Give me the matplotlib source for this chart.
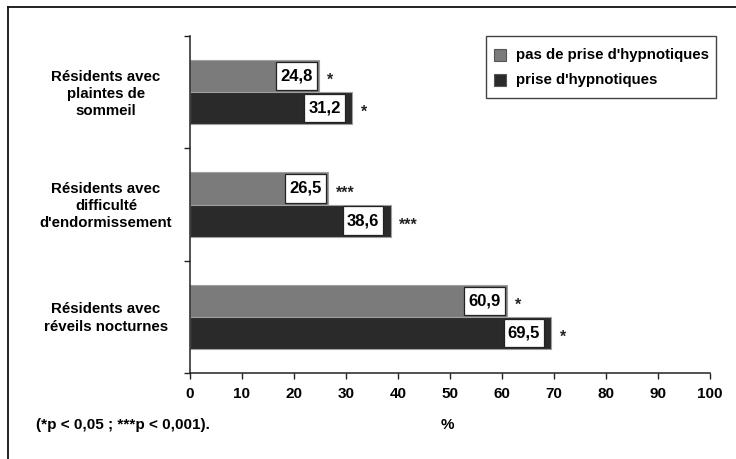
import matplotlib
matplotlib.use("Agg")
import matplotlib.pyplot as plt
from matplotlib.patches import Rectangle
import numpy as np

categories = ["Résidents avec\nplaintes de\nsommeil",
              "Résidents avec\ndifficulté\nd'endormissement",
              "Résidents avec\nréveils nocturnes"]
no_hypno = [24.8, 26.5, 60.9]
hypno = [31.2, 38.6, 69.5]
signif = ["*", "***", "*"]
series_names = ["pas de prise d'hypnotiques", "prise d'hypnotiques"]
xticks = [0, 10, 20, 30, 40, 50, 60, 70, 80, 90, 100]
xlabel = "%"
footnote = "(*p < 0,05 ; ***p < 0,001)."

fam = ["Liberation Sans", "DejaVu Sans"]
fam_narrow = ["Liberation Sans Narrow", "Liberation Sans", "DejaVu Sans"]

fig = plt.figure(figsize=(7.36, 4.59), dpi=100)
W, H = 736, 459
ax = fig.add_axes([190 / W, 1 - 373 / H, 520 / W, 337 / H])

# outer frame (left and top edges)
fig.add_artist(plt.Line2D([8 / W, 8 / W], [0, 1 - 7 / H], transform=fig.transFigure,
                          color="#111111", linewidth=1.3))
fig.add_artist(plt.Line2D([8 / W, 1], [1 - 7 / H, 1 - 7 / H], transform=fig.transFigure,
                          color="#111111", linewidth=1.3))

colors = ["#7b7b7b", "#2a2a2a"]
bh = 0.285
y = np.arange(len(categories))
for vals, off, col in [(no_hypno, -bh / 2, colors[0]), (hypno, bh / 2, colors[1])]:
    ax.barh(y + off, vals, height=bh, color=col, edgecolor="#a0a0a0", linewidth=0.8)

box_w = 7.8
box_h = 0.255
for vals, off, shift in [(no_hypno, -bh / 2, 0.4), (hypno, bh / 2, 1.4)]:
    for i, v in enumerate(vals):
        right = v - shift
        ax.add_patch(Rectangle((right - box_w, y[i] + off - box_h / 2), box_w, box_h,
                               facecolor="white", edgecolor="#222222", linewidth=0.9, zorder=3))
        ax.text(right - box_w / 2, y[i] + off, f"{v:.1f}".replace(".", ","),
                ha="center", va="center", fontsize=12, fontweight="bold",
                family=fam_narrow, zorder=4)
        ax.text(v + 1.6, y[i] + off + 0.04, signif[i], ha="left", va="center",
                fontsize=11.5, fontweight="bold", family=fam, color="#222222")

ax.set_xlim(0, 100)
ax.set_ylim(2.5, -0.5)
ax.set_xticks(xticks)
ax.set_xticklabels([str(t) for t in xticks], fontsize=11, fontweight="bold", family=fam_narrow)
ax.set_yticks([-0.5, 0.5, 1.5, 2.5])
ax.set_yticklabels([])
ax.tick_params(axis="x", direction="out", length=4, width=1, pad=6, color="#222222")
ax.tick_params(axis="y", direction="out", length=4, width=1, color="#222222")
for s in ["top", "right"]:
    ax.spines[s].set_visible(False)
for s in ["left", "bottom"]:
    ax.spines[s].set_color("#222222")
    ax.spines[s].set_linewidth(1.1)

for i, c in enumerate(categories):
    fig.text(106 / W, 1 - [94, 206, 318][i] / H, c, ha="center", va="center",
             fontsize=10.8, fontweight="bold", family=fam, linespacing=1.3)

fig.text(447 / W, 1 - 425 / H, xlabel, ha="center", va="center",
         fontsize=11, fontweight="bold", family=fam_narrow)
fig.text(36 / W, 1 - 425 / H, footnote, ha="left", va="center",
         fontsize=11, fontweight="bold", family=fam_narrow)

# legend
ax_leg = fig.add_axes([0, 0, 1, 1], facecolor="none")
ax_leg.set_xlim(0, W)
ax_leg.set_ylim(H, 0)
ax_leg.axis("off")
ax_leg.add_patch(Rectangle((486, 36), 230, 62, facecolor="white", edgecolor="#444444", linewidth=1.0))
for k, (name, col) in enumerate(zip(series_names, colors)):
    yc = [55, 80][k]
    ax_leg.add_patch(Rectangle((494, yc - 6), 12, 12, facecolor=col, edgecolor="#555555", linewidth=0.8))
    ax_leg.text(516, yc, name, ha="left", va="center", fontsize=10.8, fontweight="bold", family=fam)

fig.savefig("out.png", dpi=100)
